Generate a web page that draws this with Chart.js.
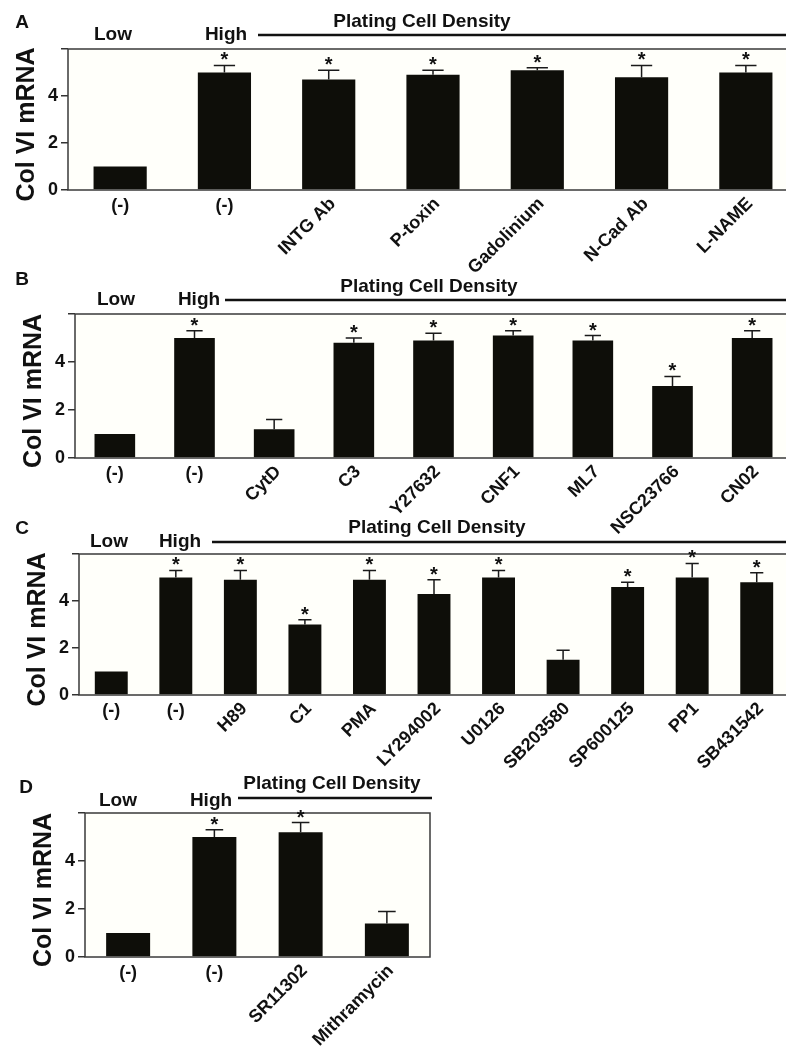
<!DOCTYPE html>
<html>
<head>
<meta charset="utf-8">
<script src="https://cdn.jsdelivr.net/npm/chart.js@4.4.1/dist/chart.umd.min.js"></script>
<style>
html, body { margin: 0; padding: 0; background: #fff; overflow: hidden; }
#wrap { position: relative; width: 786px; height: 1049px; overflow: hidden; }
canvas { position: absolute; left: 0; top: 0; }
</style>
</head>
<body>
<div id="wrap">
  <canvas id="cA" width="800" height="1049"></canvas>
  <canvas id="cB" width="800" height="1049"></canvas>
  <canvas id="cC" width="800" height="1049"></canvas>
  <canvas id="cD" width="800" height="1049"></canvas>
</div>
<script>
// panel A
const labelsA = ['(-)', '(-)', 'INTG Ab', 'P-toxin', 'Gadolinium', 'N-Cad Ab', 'L-NAME'];
const valuesA = [1.0, 5.0, 4.7, 4.9, 5.1, 4.8, 5.0];
const errorsA = [0, 0.3, 0.4, 0.2, 0.1, 0.5, 0.3];
const starsA = [false, true, true, true, true, true, true];

// panel B
const labelsB = ['(-)', '(-)', 'CytD', 'C3', 'Y27632', 'CNF1', 'ML7', 'NSC23766', 'CN02'];
const valuesB = [1.0, 5.0, 1.2, 4.8, 4.9, 5.1, 4.9, 3.0, 5.0];
const errorsB = [0, 0.3, 0.4, 0.2, 0.3, 0.2, 0.2, 0.4, 0.3];
const starsB = [false, true, false, true, true, true, true, true, true];

// panel C
const labelsC = ['(-)', '(-)', 'H89', 'C1', 'PMA', 'LY294002', 'U0126', 'SB203580', 'SP600125', 'PP1', 'SB431542'];
const valuesC = [1.0, 5.0, 4.9, 3.0, 4.9, 4.3, 5.0, 1.5, 4.6, 5.0, 4.8];
const errorsC = [0, 0.3, 0.4, 0.2, 0.4, 0.6, 0.3, 0.4, 0.2, 0.6, 0.4];
const starsC = [false, true, true, true, true, true, true, false, true, true, true];

// panel D
const labelsD = ['(-)', '(-)', 'SR11302', 'Mithramycin'];
const valuesD = [1.0, 5.0, 5.2, 1.4];
const errorsD = [0, 0.3, 0.4, 0.5];
const starsD = [false, true, true, false];

const yTicks = [0, 2, 4, 6];
const yTickLabels = ['0', '2', '4', ''];
const axisTitle = 'Col VI mRNA';
const headTitle = 'Plating Cell Density';

const FONT = "'Liberation Sans', Arial, Helvetica, sans-serif";
const W = 800, H = 1049;

// where each panel sits on the page
const panels = [
  { id: 'cA', letter: 'A', left: 68, right: 798, top: 49, bottom: 190,
    letterX: 22, letterY: 28, headX: 422, headY: 27, lowX: 113, highX: 226, lowY: 40,
    lineX1: 258, lineX2: 786, lineY: 35 },
  { id: 'cB', letter: 'B', left: 75, right: 792, top: 314, bottom: 458,
    letterX: 22, letterY: 285, headX: 429, headY: 292, lowX: 116, highX: 199, lowY: 305,
    lineX1: 225, lineX2: 786, lineY: 300 },
  { id: 'cC', letter: 'C', left: 79, right: 789, top: 554, bottom: 695,
    letterX: 22, letterY: 534, headX: 437, headY: 533, lowX: 109, highX: 180, lowY: 547,
    lineX1: 212, lineX2: 786, lineY: 542 },
  { id: 'cD', letter: 'D', left: 85, right: 430, top: 813, bottom: 957,
    letterX: 26, letterY: 793, headX: 332, headY: 789, lowX: 118, highX: 211, lowY: 806,
    lineX1: 238, lineX2: 432, lineY: 798 }
];

function decoPlugin(p, labels, values, errors, stars) {
  return {
    id: 'deco' + p.letter,
    beforeDatasetsDraw(chart) {
      const { ctx, chartArea: a } = chart;
      ctx.save();
      ctx.fillStyle = '#fffffa';
      ctx.fillRect(a.left, a.top, a.right - a.left, a.bottom - a.top);
      ctx.restore();
    },
    afterDraw(chart) {
      const { ctx, chartArea: a } = chart;
      const x = chart.scales.x, y = chart.scales.y;
      const bars = chart.getDatasetMeta(0).data;
      ctx.save();

      // frame
      ctx.strokeStyle = '#3a3a3a';
      ctx.lineWidth = 1.5;
      ctx.strokeRect(a.left, a.top, a.right - a.left, a.bottom - a.top);

      // error bars + asterisks
      ctx.strokeStyle = '#1a1a1a';
      ctx.fillStyle = '#111';
      values.forEach((v, i) => {
        const cx = x.getPixelForValue(i);
        const top = y.getPixelForValue(v);
        const capY = y.getPixelForValue(v + errors[i]);
        const capW = bars[i].width * 0.4;
        if (errors[i] > 0) {
          ctx.lineWidth = 1.5;
          ctx.beginPath();
          ctx.moveTo(cx, top);
          ctx.lineTo(cx, capY);
          ctx.moveTo(cx - capW / 2, capY);
          ctx.lineTo(cx + capW / 2, capY);
          ctx.stroke();
        }
        if (stars[i]) {
          ctx.font = 'bold 20px ' + FONT;
          ctx.textAlign = 'center';
          ctx.textBaseline = 'alphabetic';
          ctx.fillText('*', cx, capY + 1);
        }
      });

      // category labels
      ctx.font = 'bold 18px ' + FONT;
      labels.forEach((t, i) => {
        const cx = x.getPixelForValue(i);
        if (t === '(-)') {
          ctx.textAlign = 'center';
          ctx.textBaseline = 'middle';
          ctx.fillText(t, cx, a.bottom + 16);
        } else {
          ctx.save();
          ctx.translate(cx + 4, a.bottom + 11);
          ctx.rotate(-Math.PI / 4);
          ctx.textAlign = 'right';
          ctx.textBaseline = 'middle';
          ctx.fillText(t, 0, 0);
          ctx.restore();
        }
      });

      // y axis title
      ctx.save();
      ctx.font = 'bold 25px ' + FONT;
      ctx.translate(a.left - 41, (a.top + a.bottom) / 2 + 5);
      ctx.rotate(-Math.PI / 2);
      ctx.textAlign = 'center';
      ctx.textBaseline = 'middle';
      ctx.fillText(axisTitle, 0, 0);
      ctx.restore();

      // panel letter and density header
      ctx.textBaseline = 'alphabetic';
      ctx.textAlign = 'center';
      ctx.font = 'bold 19px ' + FONT;
      ctx.fillText(p.letter, p.letterX, p.letterY);
      ctx.fillText(headTitle, p.headX, p.headY);
      ctx.fillText('Low', p.lowX, p.lowY);
      ctx.fillText('High', p.highX, p.lowY);
      ctx.strokeStyle = '#111';
      ctx.lineWidth = 2.5;
      ctx.beginPath();
      ctx.moveTo(p.lineX1, p.lineY);
      ctx.lineTo(p.lineX2, p.lineY);
      ctx.stroke();

      ctx.restore();
    }
  };
}

function makeChart(p, labels, values, errors, stars) {
  return new Chart(document.getElementById(p.id), {
    type: 'bar',
    data: {
      labels: labels,
      datasets: [{
        data: values,
        backgroundColor: '#0e0e09',
        categoryPercentage: 1,
        barPercentage: 0.51
      }]
    },
    options: {
      responsive: false,
      animation: false,
      devicePixelRatio: 1,
      layout: { padding: { left: 0, top: p.top, right: W - p.right, bottom: H - p.bottom } },
      plugins: { legend: { display: false }, tooltip: { enabled: false } },
      scales: {
        x: { display: false },
        y: {
          min: 0,
          max: 6,
          afterFit: (s) => { s.width = p.left; },
          afterBuildTicks: (s) => { s.ticks = yTicks.map(v => ({ value: v })); },
          border: { display: false },
          grid: { drawOnChartArea: false, drawTicks: true, tickLength: 7, color: '#333', lineWidth: 1.5 },
          ticks: {
            padding: 3,
            color: '#111',
            font: { family: FONT, size: 18, weight: 'bold' },
            callback: (v) => yTickLabels[yTicks.indexOf(v)]
          }
        }
      }
    },
    plugins: [decoPlugin(p, labels, values, errors, stars)]
  });
}

makeChart(panels[0], labelsA, valuesA, errorsA, starsA);
makeChart(panels[1], labelsB, valuesB, errorsB, starsB);
makeChart(panels[2], labelsC, valuesC, errorsC, starsC);
makeChart(panels[3], labelsD, valuesD, errorsD, starsD);
</script>
</body>
</html>
